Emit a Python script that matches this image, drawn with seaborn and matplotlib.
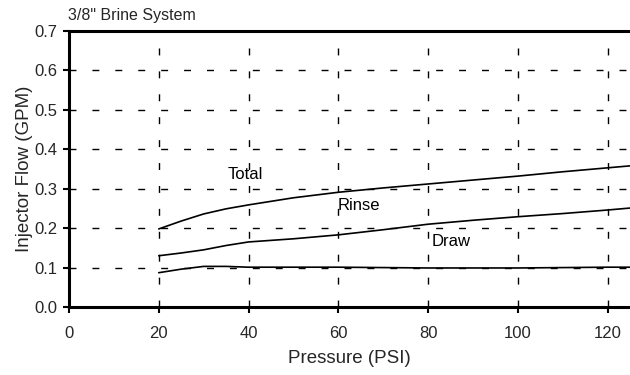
import pandas as pd  # data handling
import numpy as np
import matplotlib
matplotlib.use("Agg")
import matplotlib.pyplot as plt
import seaborn as sns

# values
pressure = [20, 25, 30, 35, 40, 50, 60, 70, 80, 90, 100, 110, 120, 125]
total = [0.198, 0.218, 0.236, 0.249, 0.259, 0.277, 0.291, 0.302, 0.312, 0.322, 0.332, 0.343, 0.353, 0.358]
rinse = [0.130, 0.137, 0.145, 0.156, 0.165, 0.173, 0.183, 0.196, 0.210, 0.220, 0.229, 0.237, 0.246, 0.251]
draw = [0.087, 0.096, 0.103, 0.103, 0.101, 0.101, 0.101, 0.100, 0.099, 0.099, 0.099, 0.100, 0.101, 0.101]

labels = ["Total", "Rinse", "Draw"]
label_x = [35.3, 59.8, 80.9]
label_y = [0.337, 0.258, 0.167]

df = pd.DataFrame({
    "Pressure": pressure * 3,
    "Flow": total + rinse + draw,
    "Series": ["Total"] * len(pressure) + ["Rinse"] * len(pressure) + ["Draw"] * len(pressure),
})

sns.set_style("ticks")
plt.rcParams["font.family"] = ["Liberation Sans", "DejaVu Sans"]

fig = plt.figure(figsize=(6.3, 3.75), dpi=100)
ax = fig.add_axes([0.1095, 0.1813, 0.8905, 0.736])

sns.lineplot(data=df, x="Pressure", y="Flow", units="Series", estimator=None,
             color="black", linewidth=1.2, ax=ax, legend=False)

for txt, lx, ly in zip(labels, label_x, label_y):
    ax.text(lx, ly, txt, fontsize=12, ha="left", va="center", color="black")

ax.set_xlim(0, 125)
ax.set_ylim(0, 0.7)
ax.set_xticks(np.arange(0, 121, 20))
ax.set_yticks(np.arange(0, 0.71, 0.1))
ax.set_yticklabels([f"{v:.1f}" for v in np.arange(0, 0.71, 0.1)])
ax.tick_params(axis="both", labelsize=12, length=4, width=1.5, color="black", pad=4)
ax.tick_params(axis="x", pad=10)

ax.grid(True, color="black", linewidth=1.0, linestyle=(0, (5, 11.5)))

for side in ["left", "bottom", "top"]:
    ax.spines[side].set_linewidth(2.2)
    ax.spines[side].set_color("black")
    ax.spines[side].set_visible(True)
ax.spines["right"].set_visible(False)

ax.set_xlabel("Pressure (PSI)", fontsize=13.5, labelpad=6)
ax.set_ylabel("Injector Flow (GPM)", fontsize=13.5, labelpad=1)
fig.text(0.108, 0.958, "3/8\" Brine System", fontsize=11.5, ha="left", va="center")

fig.savefig("out.png", dpi=100)
